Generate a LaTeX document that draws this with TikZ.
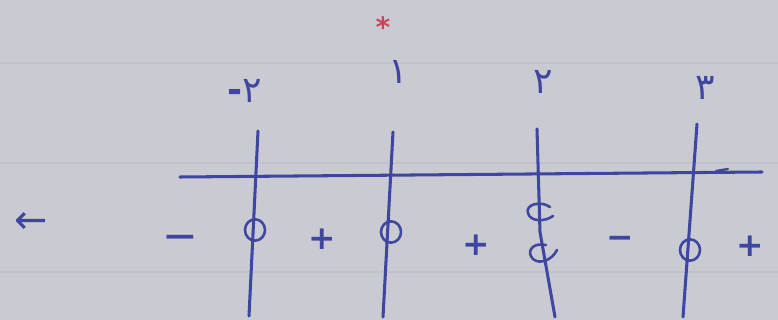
\documentclass[tikz,border=0pt]{standalone}
\usepackage{fontspec}
\usetikzlibrary{positioning,shapes.geometric}
\newfontfamily\arabicfont[Script=Arabic]{DejaVu Sans}
\newfontfamily\signfont{DejaVu Sans}
\definecolor{paper}{RGB}{202,203,210}
\definecolor{ruling}{RGB}{192,193,203}
\definecolor{ink}{RGB}{62,70,160}
\definecolor{star}{RGB}{200,70,90}

\begin{document}
\begin{tikzpicture}[x=0.03cm, y=-0.03cm,
  pen/.style={draw=ink, line width=2.6pt, line cap=round},
  num/.style={text=ink, font=\arabicfont\fontsize{31}{35}\selectfont, inner sep=0pt},
  sgn/.style={text=ink, font=\signfont\bfseries\fontsize{28}{32}\selectfont, inner sep=0pt},
  hole/.style={ellipse, draw=ink, line width=2.2pt, minimum width=0.6cm, minimum height=0.64cm, inner sep=0pt}
]
% paper
\fill[paper] (0,0) rectangle (778,320);
\useasboundingbox (0,0) rectangle (778,320);
\draw[ruling, line width=1pt] (0,63) -- (778,63);
\draw[ruling, line width=1pt] (0,163) -- (778,163);
\draw[ruling, line width=1pt] (0,272) -- (778,272);

% roots
\node[num] (r1) at (245,91) {{\signfont\bfseries -}۲};
\node[num] (r2) at (398,72) {۱};
\node[num] (r3) at (543,82) {۲};
\node[num] (r4) at (705,88) {۳};
\node[text=star, font=\signfont\bfseries\fontsize{24}{28}\selectfont, inner sep=0pt] (st) at (383,27) {*};

% axis
\coordinate (ax0) at (180,177);
\coordinate (ax1) at (762,172);
\draw[pen] (ax0) -- (ax1);
\coordinate (tk0) at (716,171);
\coordinate (tk1) at (728,169);
\draw[pen, line width=2pt] (tk0) -- (tk1);

% vertical lines
\coordinate (a0) at (258,131); \coordinate (a1) at (249,316);
\coordinate (b0) at (393,132); \coordinate (b1) at (383,317);
\coordinate (c0) at (537,129); \coordinate (cm) at (540,232); \coordinate (c1) at (555,317);
\coordinate (d0) at (697,124); \coordinate (d1) at (683,317);
\draw[pen] (a0) -- (a1);
\draw[pen] (b0) -- (b1);
\draw[pen] (c0) -- (cm) -- (c1);
\draw[pen] (d0) -- (d1);

% holes
\node[hole] (h1) at (255,230) {};
\node[hole] (h2) at (391,232) {};
\node[hole] (h4) at (690,250) {};
\draw[pen, line width=2.2pt] (550,207) .. controls (540,200) and (525,205) .. (528,213)
  .. controls (530,222) and (545,222) .. (553,216);
\draw[pen, line width=2.2pt] (546,245) .. controls (532,242) and (526,252) .. (533,259)
  .. controls (540,265) and (552,260) .. (557,250);

% signs
\node[sgn, xscale=1.3] (s1) at (180,241) {−};
\node[sgn] (s2) at (322,239) {+};
\node[sgn] (s3) at (476,245) {+};
\node[sgn] (s4) at (620,242) {−};
\node[sgn] (s5) at (750,246) {+};
\node[text=ink, font=\signfont\fontsize{34}{38}\selectfont, inner sep=0pt] (arr) at (31,223) {←};
\end{tikzpicture}
\end{document}
